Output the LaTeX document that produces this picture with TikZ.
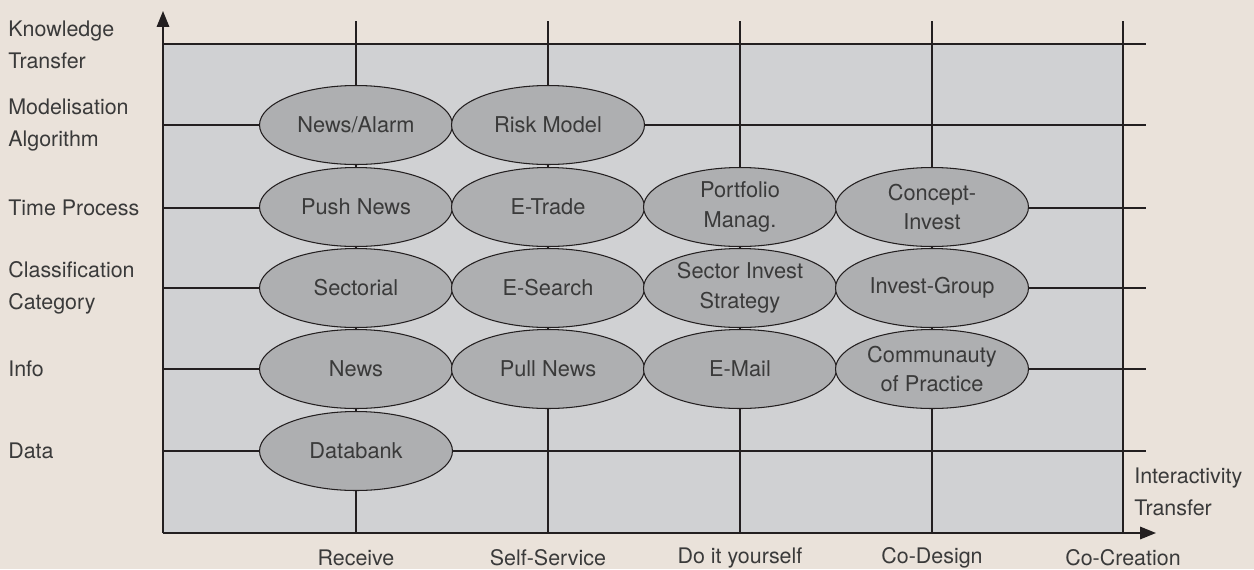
\documentclass[tikz,border=0pt]{standalone}
\usepackage{fontspec}
\setmainfont{TeX Gyre Heros}
\usetikzlibrary{shapes.geometric,arrows.meta}
\definecolor{paper}{HTML}{EAE2DA}
\definecolor{panel}{HTML}{D0D1D3}
\definecolor{bubble}{HTML}{AEAFB1}
\definecolor{ink}{HTML}{3A3A3A}
\definecolor{rule}{HTML}{231F20}
\begin{document}
\begin{tikzpicture}[x=0.02cm,y=-0.02cm,
  font=\fontsize{12.2}{18}\selectfont,
  grid/.style={draw=rule,line width=1.1pt},
  bub/.style={ellipse,draw=rule,line width=0.6pt,fill=bubble,text=ink,
    minimum width=3.86cm,minimum height=1.58cm,inner sep=0pt,align=center,
    font=\fontsize{12.4}{17}\selectfont},
  lab/.style={text=ink,align=left,anchor=west,inner sep=0pt},
  clab/.style={text=ink,inner sep=0pt}]
% canvas and panel
\fill[paper] (0,0) rectangle (1254,569);
\useasboundingbox (0,0) rectangle (1254,569);
\fill[panel] (163,44) rectangle (1123,533);
% grid rows and columns
\foreach \y in {44,125,208,288,369,451}
  \draw[grid] (163,\y) -- (1146,\y);
\foreach \x in {356,548,740,932,1123}
  \draw[grid] (\x,21) -- (\x,533);
% axes
\coordinate (o) at (163,533);
\coordinate (ytip) at (163,11);
\coordinate (xtip) at (1156,533);
\draw[grid,-{Triangle[length=9pt,width=7pt]}] (o) -- (ytip);
\draw[grid,-{Triangle[length=9pt,width=7pt]}] (o) -- (xtip);
% bubbles
\node[bub] (na) at (356,125) {News/Alarm};
\node[bub] (rm) at (548,125) {Risk Model};
\node[bub] (pn) at (356,207) {Push News};
\node[bub] (et) at (548,207) {E-Trade};
\node[bub] (pm) at (740,207) {Portfolio\\Manag.};
\node[bub] (ci) at (932,207) {Concept-\\Invest};
\node[bub] (se) at (356,288) {Sectorial};
\node[bub] (es) at (548,288) {E-Search};
\node[bub] (si) at (740,288) {Sector Invest\\Strategy};
\node[bub] (ig) at (932,288) {Invest-Group};
\node[bub] (nw) at (356,369) {News};
\node[bub] (pl) at (548,369) {Pull News};
\node[bub] (em) at (740,369) {E-Mail};
\node[bub] (cp) at (932,369) {Communauty\\of Practice};
\node[bub] (db) at (356,451) {Databank};
% row labels
\node[lab] (r1) at (8,45) {Knowledge\\Transfer};
\node[lab] (r2) at (8,125) {Modelisation\\Algorithm};
\node[lab] (r3) at (8,208) {Time Process};
\node[lab] (r4) at (8,288) {Classification\\Category};
\node[lab] (r5) at (8,369) {Info};
\node[lab] (r6) at (8,451) {Data};
% column labels
\node[clab] (c1) at (356,558) {Receive};
\node[clab] (c2) at (548,558) {Self-Service};
\node[clab] (c3) at (740,558) {Do it yourself};
\node[clab] (c4) at (932,558) {Co-Design};
\node[clab] (c5) at (1123,558) {Co-Creation};
\node[lab] (xl) at (1134,492) {Interactivity\\Transfer};
\end{tikzpicture}
\end{document}
